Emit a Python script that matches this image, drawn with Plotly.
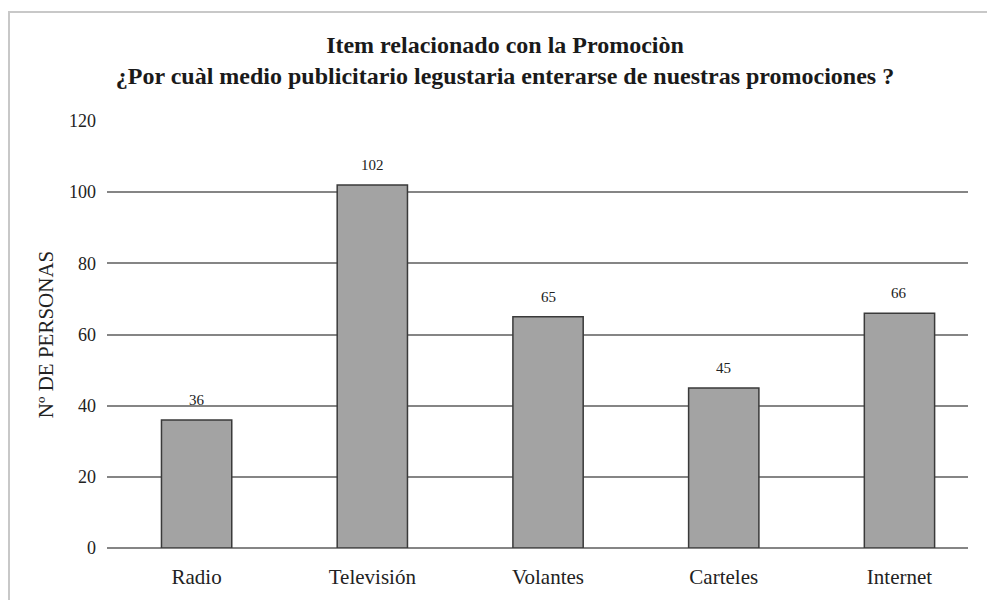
import plotly.graph_objects as go

categories = ["Radio", "Televisión", "Volantes", "Carteles", "Internet"]
values = [36, 102, 65, 45, 66]
y_ticks = [0, 20, 40, 60, 80, 100, 120]

FONT = "Liberation Serif, Times New Roman, serif"

# page body has an 8px margin; compensate so plot area lands at 107..968 x 121..548
L, R, T, B = 99, 35, 113, 60
PW = 995 - L - R
PH = 600 - T - B

fig = go.Figure()
fig.add_trace(go.Bar(
    x=list(range(len(categories))),
    y=values,
    width=0.4,
    marker=dict(color="#a3a3a3", line=dict(color="#3a3a3a", width=1.5)),
))

for i, v in enumerate(values):
    fig.add_annotation(x=i, y=v, text=str(v), showarrow=False,
                       yanchor="bottom", yshift=10,
                       font=dict(family=FONT, size=15, color="#222222"))

fig.update_layout(
    width=995, height=600,
    margin=dict(l=L, r=R, t=T, b=B),
    paper_bgcolor="white", plot_bgcolor="white",
    showlegend=False,
    title=dict(
        text="<b>Item relacionado con la Promociòn</b><br><b>¿Por cuàl medio publicitario legustaria enterarse de nuestras promociones ?</b>",
        x=497/995, xanchor="center", xref="container",
        y=1 - 45/600, yanchor="top", yref="container",
        font=dict(family=FONT, size=24, color="#1a1a1a"),
    ),
    xaxis=dict(
        range=[-0.51, 4.39],
        tickvals=list(range(len(categories))),
        ticktext=categories,
        tickfont=dict(family=FONT, size=21, color="#222222"),
        showgrid=False, zeroline=False, showline=False,
        ticks="", ticklen=0, ticklabelstandoff=14,
    ),
    yaxis=dict(
        range=[0, 120],
        tickvals=y_ticks,
        tickfont=dict(family=FONT, size=18, color="#222222"),
        showgrid=True, gridcolor="#858585", gridwidth=1.8,
        zeroline=True, zerolinecolor="#858585", zerolinewidth=1.8,
        showline=False, ticks="", ticklabelstandoff=10,
        title=dict(text="Nº DE PERSONAS", font=dict(family=FONT, size=21, color="#222222"), standoff=9),
    ),
)

fig.add_shape(type="rect", xref="paper", yref="paper",
              x0=(1 - L) / PW, x1=1.2, y0=-0.3, y1=(600 - B - 4) / PH,
              line=dict(color="#c8c8c8", width=2), fillcolor="rgba(0,0,0,0)", layer="below")

fig.write_html("out.html")
